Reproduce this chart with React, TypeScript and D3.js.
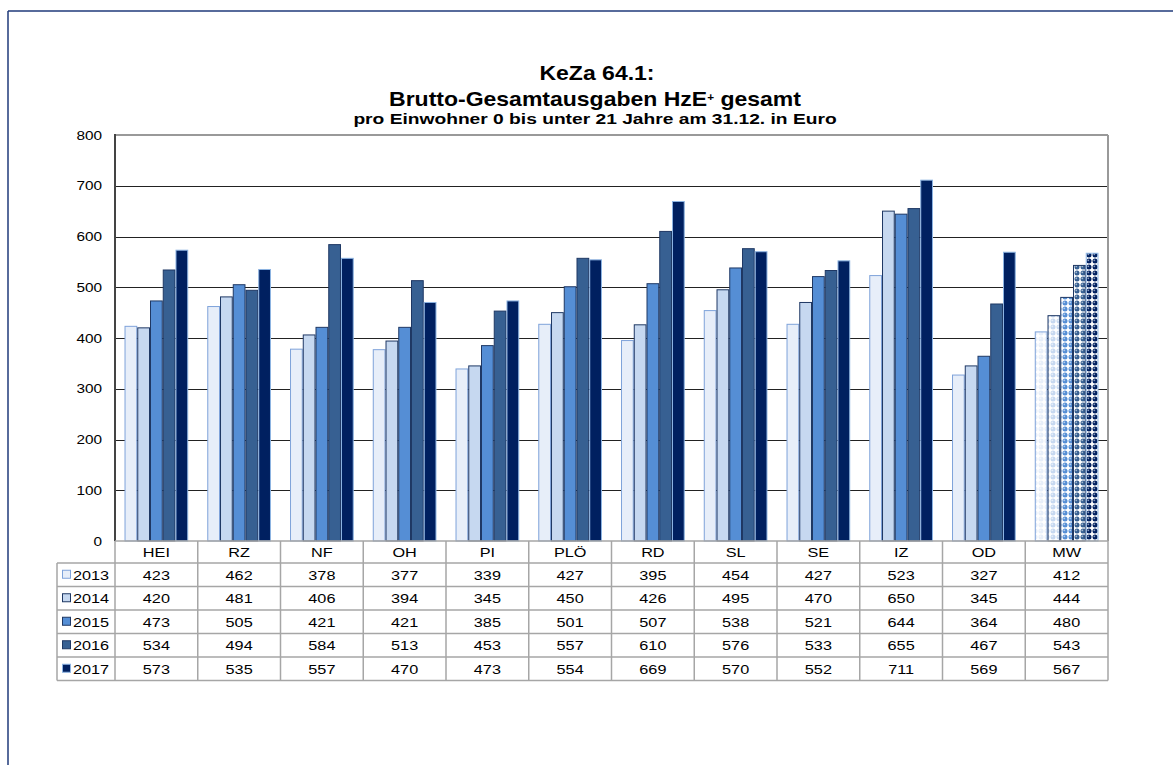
import React from "react";
import * as d3 from "d3";

const categories = ["HEI", "RZ", "NF", "OH", "PI", "PLÖ", "RD", "SL", "SE", "IZ", "OD", "MW"];
const years = ["2013", "2014", "2015", "2016", "2017"];
const v2013 = [423, 462, 378, 377, 339, 427, 395, 454, 427, 523, 327, 412];
const v2014 = [420, 481, 406, 394, 345, 450, 426, 495, 470, 650, 345, 444];
const v2015 = [473, 505, 421, 421, 385, 501, 507, 538, 521, 644, 364, 480];
const v2016 = [534, 494, 584, 513, 453, 557, 610, 576, 533, 655, 467, 543];
const v2017 = [573, 535, 557, 470, 473, 554, 669, 570, 552, 711, 569, 567];
const yTicks = [0, 100, 200, 300, 400, 500, 600, 700, 800];

const series = [v2013, v2014, v2015, v2016, v2017];
const fills = ["#E7EEF9", "#C6D8F0", "#558ED5", "#376092", "#002060"];
const strokes = ["#7FA3DA", "#1F3864", "#1F3864", "#1F3864", "#8DB4E2"];

const W = 1173;
const H = 765;
const plotL = 115;
const plotR = 1108;
const plotT = 135;
const plotB = 541;
const legendL = 57;
const headerH = 22;
const rowH = 23.5;
const SX = 1.25;

function ST(props: { x: number; y: number; sx?: number; anchor?: string; size: number; bold?: boolean; children: React.ReactNode }) {
  const { x, y, sx = SX, anchor = "middle", size, bold, children } = props;
  return (
    <g transform={`translate(${x},${y}) scale(${sx},1)`}>
      <text x={0} y={0} textAnchor={anchor} fontSize={size} fontWeight={bold ? "bold" : "normal"} fill="#000">
        {children}
      </text>
    </g>
  );
}

export default function App() {
  const x = d3.scaleBand<string>().domain(categories).range([plotL, plotR]).paddingInner(0.23).paddingOuter(0.115);
  const xs = d3.scaleBand<string>().domain(years).range([0, x.bandwidth()]);
  const y = d3.scaleLinear().domain([0, 800]).range([plotB, plotT]);
  const step = x.step();
  const tableBottom = plotB + headerH + rowH * years.length;
  const font = "Arial, 'Liberation Sans', sans-serif";

  return (
    <svg width={W} height={H} style={{ position: "absolute", left: 0, top: 0, background: "#fff" }} fontFamily={font}>
      <defs>
        {fills.map((c, i) => (
          <pattern key={i} id={`pat${i}`} width={6} height={6} patternUnits="userSpaceOnUse">
            <rect width={6} height={6} fill="#fff" />
            <circle cx={3} cy={3} r={2.5} fill={c} />
            <circle cx={2.3} cy={2.3} r={0.9} fill="#fff" opacity={0.55} />
          </pattern>
        ))}
      </defs>
      {/* outer frame */}
      <line x1={8} x2={W} y1={11} y2={11} stroke="#1F3A7A" strokeWidth={1.5} />
      <line x1={8} x2={8} y1={11} y2={H} stroke="#1F3A7A" strokeWidth={1.5} />

      {/* titles */}
      <ST x={597} y={80} size={19.5} sx={1.18} bold>KeZa 64.1:</ST>
      <ST x={595} y={106} size={19.5} sx={1.18} bold>
        Brutto-Gesamtausgaben HzE<tspan fontSize={10} dy={-5}>+</tspan><tspan dy={5}> gesamt</tspan>
      </ST>
      <ST x={595} y={124} size={15.5} sx={1.24} bold>pro Einwohner 0 bis unter 21 Jahre am 31.12. in Euro</ST>

      {/* gridlines */}
      {yTicks.filter((t) => t > 0 && t < 800).map((t) => (
        <line key={t} x1={plotL} x2={plotR} y1={Math.round(y(t)) + 0.5} y2={Math.round(y(t)) + 0.5} stroke="#222" strokeWidth={1} />
      ))}
      {/* plot border top and right */}
      <line x1={plotL} x2={plotR} y1={plotT} y2={plotT} stroke="#999" strokeWidth={2} />
      <line x1={plotR} x2={plotR} y1={plotT} y2={plotB} stroke="#999" strokeWidth={2} />

      {/* y ticks */}
      {yTicks.map((t) => (
        <ST key={t} x={102} y={y(t) + 4.5} size={13} sx={1.18} anchor="end">{t}</ST>
      ))}

      {/* bars */}
      {series.map((vals, si) =>
        vals.map((v, ci) => {
          const cat = categories[ci];
          const isMW = cat === "MW";
          const bx = (x(cat) as number) + (xs(years[si]) as number);
          return (
            <rect
              key={`${si}-${ci}`}
              x={bx + 0.5}
              y={y(v)}
              width={xs.bandwidth() - 1}
              height={plotB - y(v)}
              fill={isMW ? `url(#pat${si})` : fills[si]}
              stroke={strokes[si]}
              strokeWidth={1}
            />
          );
        })
      )}

      {/* y axis line */}
      <line x1={plotL} x2={plotL} y1={plotT - 1} y2={plotB} stroke="#444" strokeWidth={2} />

      {/* data table */}
      <g stroke="#A6A6A6" strokeWidth={1.5} fill="none">
        <line x1={plotL} x2={plotR} y1={plotB} y2={plotB} />
        {years.map((_, i) => (
          <line key={i} x1={legendL} x2={plotR} y1={plotB + headerH + rowH * i} y2={plotB + headerH + rowH * i} />
        ))}
        <line x1={legendL} x2={plotR} y1={tableBottom} y2={tableBottom} />
        <line x1={legendL} x2={legendL} y1={plotB + headerH} y2={tableBottom} />
        {categories.map((c, i) => (
          <line key={c} x1={plotL + step * i} x2={plotL + step * i} y1={plotB} y2={tableBottom} />
        ))}
        <line x1={plotR} x2={plotR} y1={plotB} y2={tableBottom} />
      </g>
      {categories.map((c) => (
        <ST key={c} x={(x(c) as number) + x.bandwidth() / 2} y={plotB + headerH / 2 + 5} size={13}>{c}</ST>
      ))}
      {series.map((vals, si) => (
        <g key={si}>
          <rect x={62.5} y={plotB + headerH + rowH * si + rowH / 2 - 4.5} width={8} height={8} fill={fills[si]} stroke={strokes[si]} strokeWidth={1} />
          <ST x={73} y={plotB + headerH + rowH * si + rowH / 2 + 5} size={13} anchor="start">{years[si]}</ST>
          {vals.map((v, ci) => (
            <ST key={ci} x={(x(categories[ci]) as number) + x.bandwidth() / 2} y={plotB + headerH + rowH * si + rowH / 2 + 5} size={13}>{v}</ST>
          ))}
        </g>
      ))}
    </svg>
  );
}
